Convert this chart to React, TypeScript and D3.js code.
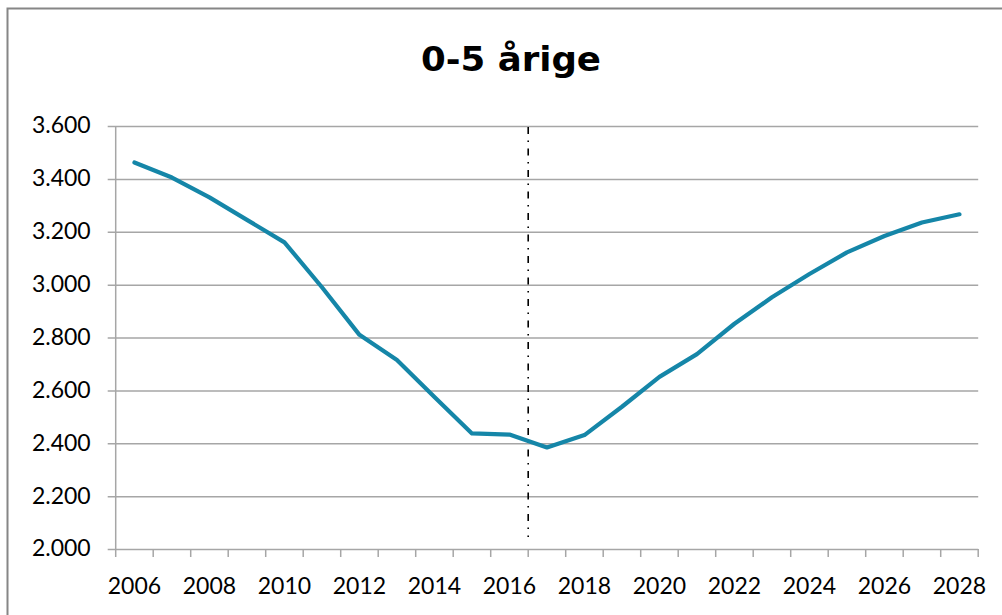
import React, { useEffect, useRef } from 'react';
import { axisLeft, formatLocale, line, scaleBand, scaleLinear, select } from 'd3';

const years = [
  '2006', '2007', '2008', '2009', '2010', '2011', '2012', '2013', '2014', '2015', '2016', '2017',
  '2018', '2019', '2020', '2021', '2022', '2023', '2024', '2025', '2026', '2027', '2028',
];
const children = [
  3462, 3405, 3330, 3245, 3160, 2990, 2810, 2715, 2575, 2437, 2433, 2384,
  2431, 2538, 2651, 2737, 2852, 2952, 3040, 3122, 3184, 3235, 3266,
];
const yTicks = [2000, 2200, 2400, 2600, 2800, 3000, 3200, 3400, 3600];
const labelYears = ['2006', '2008', '2010', '2012', '2014', '2016', '2018', '2020', '2022', '2024', '2026', '2028'];
const splitYear = '2017';
const title = '0-5 årige';

const font = 'Lato, "Open Sans", sans-serif';
const titleFont = '"DejaVu Sans", sans-serif';

const App = () => {
  const chartRef = useRef<SVGSVGElement | null>(null);

  useEffect(() => {
    const svg = select(chartRef.current);
    const width = 1002;
    const height = 615;
    const left = 115.7;
    const right = 978.2;
    const top = 126;
    const bottom = 549;

    svg.selectAll('*').remove();
    svg.attr('width', width).attr('height', height);

    svg.append('rect').attr('width', width).attr('height', height).attr('fill', '#fff');

    // chart frame, runs off the page on the right and bottom
    svg
      .append('rect')
      .attr('x', 7.5)
      .attr('y', 8.5)
      .attr('width', 1010)
      .attr('height', 620)
      .attr('fill', 'none')
      .attr('stroke', '#868686')
      .attr('stroke-width', 2);

    svg
      .append('text')
      .attr('x', 421)
      .attr('y', 71)
      .attr('textLength', 180)
      .attr('lengthAdjust', 'spacingAndGlyphs')
      .style('font-family', titleFont)
      .style('font-weight', 'bold')
      .style('font-size', '34px')
      .attr('fill', '#000')
      .text(title);

    const x = scaleBand().domain(years).range([left, right]).padding(0);
    const y = scaleLinear().domain([2000, 3600]).range([bottom, top]);

    const loc = formatLocale({ decimal: ',', thousands: '.', grouping: [3], currency: ['', ''] });
    const fmt = loc.format(',');

    // grid + y axis
    const yAxis = svg
      .append('g')
      .attr('transform', `translate(${left},0)`)
      .call(
        axisLeft(y)
          .tickValues(yTicks)
          .tickSize(-(right - left))
          .tickPadding(25)
          .tickFormat((d) => fmt(d as number))
      );
    yAxis.select('.domain').remove();
    yAxis
      .selectAll('.tick line')
      .attr('x1', -8)
      .attr('stroke', '#a6a6a6')
      .attr('stroke-width', 1.5);
    yAxis
      .selectAll('.tick text')
      .attr('dy', '0.3em')
      .style('font-family', font)
      .style('font-size', '23px')
      .attr('fill', '#000');

    // y axis line
    svg
      .append('line')
      .attr('x1', left)
      .attr('x2', left)
      .attr('y1', top)
      .attr('y2', bottom)
      .attr('stroke', '#a6a6a6')
      .attr('stroke-width', 1.5);

    // x tick marks at category boundaries
    const edges = years.map((d) => x(d) ?? 0).concat([right]);
    svg
      .append('g')
      .selectAll('line')
      .data(edges)
      .enter()
      .append('line')
      .attr('x1', (d) => d)
      .attr('x2', (d) => d)
      .attr('y1', bottom)
      .attr('y2', bottom + 8)
      .attr('stroke', '#a6a6a6')
      .attr('stroke-width', 1.5);

    svg
      .append('g')
      .selectAll('text')
      .data(labelYears)
      .enter()
      .append('text')
      .attr('x', (d) => (x(d) ?? 0) + x.bandwidth() / 2)
      .attr('y', 594)
      .attr('text-anchor', 'middle')
      .style('font-family', font)
      .style('font-size', '23px')
      .attr('fill', '#000')
      .text((d) => d);

    // forecast split
    const sx = x(splitYear) ?? 0;
    svg
      .append('line')
      .attr('x1', sx)
      .attr('x2', sx)
      .attr('y1', top + 1)
      .attr('y2', bottom - 12)
      .attr('stroke', '#000')
      .attr('stroke-width', 1.6)
      .attr('stroke-dasharray', '7,6.5,1.5,6.5');

    const path = line<number>()
      .x((_, i) => (x(years[i]) ?? 0) + x.bandwidth() / 2)
      .y((d) => y(d));

    svg
      .append('path')
      .datum(children)
      .attr('d', path)
      .attr('fill', 'none')
      .attr('stroke', '#1586a8')
      .attr('stroke-width', 4.2)
      .attr('stroke-linejoin', 'round')
      .attr('stroke-linecap', 'round');
  }, []);

  return (
    <svg ref={chartRef} style={{ position: 'absolute', left: 0, top: 0, display: 'block' }} />
  );
};

export default App;
